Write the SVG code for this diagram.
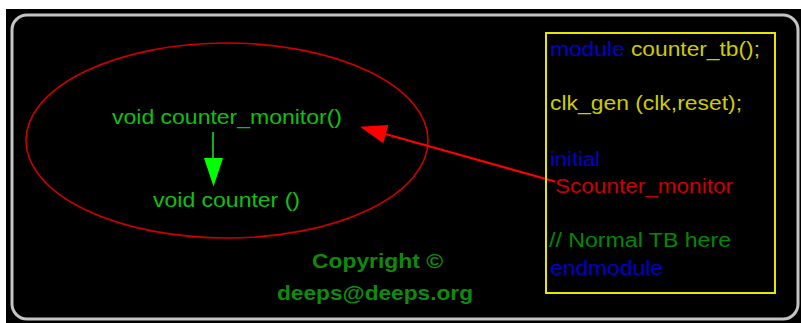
<svg xmlns="http://www.w3.org/2000/svg" width="801" height="323" viewBox="0 0 801 323">
<style>
text{font-family:"Liberation Sans",Arial,sans-serif;font-size:20px}
.fn{fill:#10c010}
.kw{fill:#0000cc}
.yl{fill:#cccc00}
.rd{fill:#cc0000}
.cm{fill:#008a00}
.cp{fill:#0f8a0f;font-weight:bold}
</style>
<defs>
<marker id="redHead" markerWidth="13" markerHeight="10" refX="13" refY="5" orient="auto" markerUnits="userSpaceOnUse" viewBox="0 0 13 10">
<path d="M0,0 L13,5 L0,10 z" fill="#ff0000"/>
</marker>
</defs>
<rect x="0" y="0" width="801" height="323" fill="#ffffff"/>
<rect x="6" y="9" width="795" height="314" fill="#000000"/>
<rect x="12" y="15" width="786" height="304" rx="15" ry="15" fill="#000000" stroke="#c4c4c4" stroke-width="3"/>
<g id="scope">
<ellipse cx="227" cy="140.5" rx="201" ry="97.5" fill="none" stroke="#cc0000" stroke-width="1.6"/>
</g>
<g id="counter_monitor">
<text class="fn" x="112" y="123.5" textLength="230" lengthAdjust="spacingAndGlyphs">void counter_monitor()</text>
</g>
<g id="counter">
<text class="fn" x="153" y="206.5" textLength="147" lengthAdjust="spacingAndGlyphs">void counter ()</text>
</g>
<g id="connectors">
<line x1="213" y1="132" x2="213" y2="160" stroke="#10b010" stroke-width="2"/>
<polygon points="204,158 223,158 213.5,186.5" fill="#00ff00"/>
<line x1="555" y1="181.5" x2="380" y2="132.5" stroke="#ff0000" stroke-width="2"/>
<polygon points="360,126.7 388.3,125 383.3,143.3" fill="#ff0000"/>
</g>
<g id="testbench">
<rect x="546" y="33" width="229" height="260" fill="none" stroke="#e6e600" stroke-width="2"/>
<text x="550" y="55.7" textLength="210" lengthAdjust="spacingAndGlyphs"><tspan class="kw">module</tspan><tspan class="yl"> counter_tb();</tspan></text>
<text class="yl" x="550" y="110" textLength="192" lengthAdjust="spacingAndGlyphs">clk_gen (clk,reset);</text>
<text class="kw" x="550" y="166" textLength="50" lengthAdjust="spacingAndGlyphs">initial</text>
<text class="rd" x="555" y="193" textLength="178" lengthAdjust="spacingAndGlyphs">Scounter_monitor</text>
<text class="cm" x="549" y="247" textLength="182" lengthAdjust="spacingAndGlyphs">// Normal TB here</text>
<text class="kw" x="550" y="275" textLength="113" lengthAdjust="spacingAndGlyphs">endmodule</text>
</g>
<g id="copyright">
<text class="cp" x="312" y="268.3" textLength="131" lengthAdjust="spacingAndGlyphs">Copyright ©</text>
<text class="cp" x="277" y="300" textLength="196" lengthAdjust="spacingAndGlyphs">deeps@deeps.org</text>
</g>
</svg>
